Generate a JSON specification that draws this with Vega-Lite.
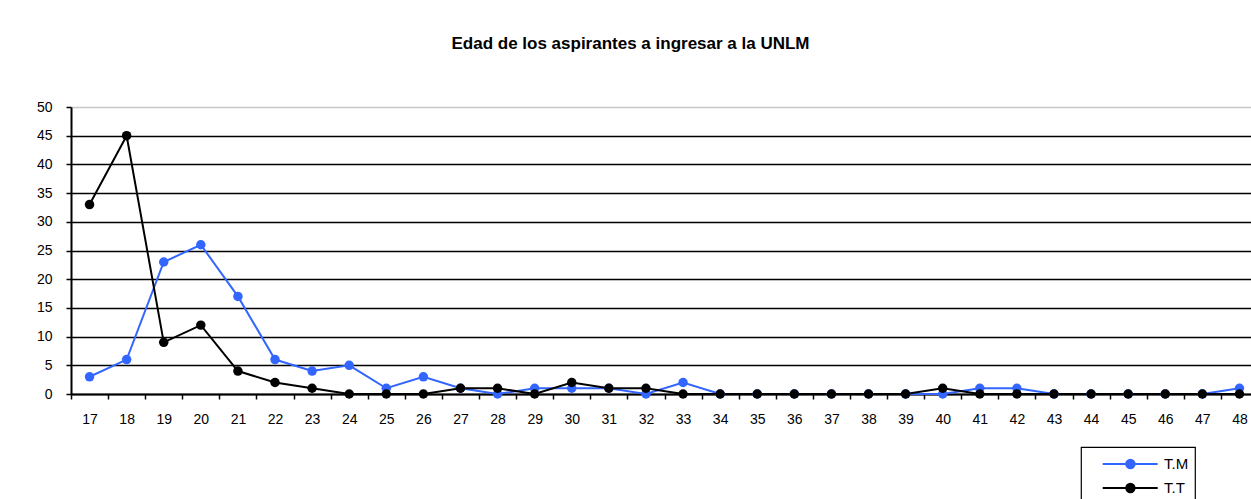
{
  "$schema": "https://vega.github.io/schema/vega-lite/v6.json",
  "autosize": {"type": "none"},
  "padding": {"left": 71, "top": 107, "right": 0, "bottom": 105},
  "width": 1187,
  "height": 287,
  "background": "white",
  "title": {
    "text": "Edad de los aspirantes a ingresar a la UNLM",
    "font": "Liberation Sans",
    "fontSize": 17,
    "fontWeight": "bold",
    "color": "black",
    "anchor": "middle",
    "frame": "group",
    "baseline": "alphabetic",
    "offset": 34,
    "dx": -34
  },
  "config": {
    "view": {"stroke": null},
    "axis": {"labelFont": "Liberation Sans", "labelColor": "black", "labelFontSize": 14}
  },
  "data": {
    "values": [
      {"edad": 17, "turno": "T.M", "valor": 3},
      {"edad": 18, "turno": "T.M", "valor": 6},
      {"edad": 19, "turno": "T.M", "valor": 23},
      {"edad": 20, "turno": "T.M", "valor": 26},
      {"edad": 21, "turno": "T.M", "valor": 17},
      {"edad": 22, "turno": "T.M", "valor": 6},
      {"edad": 23, "turno": "T.M", "valor": 4},
      {"edad": 24, "turno": "T.M", "valor": 5},
      {"edad": 25, "turno": "T.M", "valor": 1},
      {"edad": 26, "turno": "T.M", "valor": 3},
      {"edad": 27, "turno": "T.M", "valor": 1},
      {"edad": 28, "turno": "T.M", "valor": 0},
      {"edad": 29, "turno": "T.M", "valor": 1},
      {"edad": 30, "turno": "T.M", "valor": 1},
      {"edad": 31, "turno": "T.M", "valor": 1},
      {"edad": 32, "turno": "T.M", "valor": 0},
      {"edad": 33, "turno": "T.M", "valor": 2},
      {"edad": 34, "turno": "T.M", "valor": 0},
      {"edad": 35, "turno": "T.M", "valor": 0},
      {"edad": 36, "turno": "T.M", "valor": 0},
      {"edad": 37, "turno": "T.M", "valor": 0},
      {"edad": 38, "turno": "T.M", "valor": 0},
      {"edad": 39, "turno": "T.M", "valor": 0},
      {"edad": 40, "turno": "T.M", "valor": 0},
      {"edad": 41, "turno": "T.M", "valor": 1},
      {"edad": 42, "turno": "T.M", "valor": 1},
      {"edad": 43, "turno": "T.M", "valor": 0},
      {"edad": 44, "turno": "T.M", "valor": 0},
      {"edad": 45, "turno": "T.M", "valor": 0},
      {"edad": 46, "turno": "T.M", "valor": 0},
      {"edad": 47, "turno": "T.M", "valor": 0},
      {"edad": 48, "turno": "T.M", "valor": 1},
      {"edad": 17, "turno": "T.T", "valor": 33},
      {"edad": 18, "turno": "T.T", "valor": 45},
      {"edad": 19, "turno": "T.T", "valor": 9},
      {"edad": 20, "turno": "T.T", "valor": 12},
      {"edad": 21, "turno": "T.T", "valor": 4},
      {"edad": 22, "turno": "T.T", "valor": 2},
      {"edad": 23, "turno": "T.T", "valor": 1},
      {"edad": 24, "turno": "T.T", "valor": 0},
      {"edad": 25, "turno": "T.T", "valor": 0},
      {"edad": 26, "turno": "T.T", "valor": 0},
      {"edad": 27, "turno": "T.T", "valor": 1},
      {"edad": 28, "turno": "T.T", "valor": 1},
      {"edad": 29, "turno": "T.T", "valor": 0},
      {"edad": 30, "turno": "T.T", "valor": 2},
      {"edad": 31, "turno": "T.T", "valor": 1},
      {"edad": 32, "turno": "T.T", "valor": 1},
      {"edad": 33, "turno": "T.T", "valor": 0},
      {"edad": 34, "turno": "T.T", "valor": 0},
      {"edad": 35, "turno": "T.T", "valor": 0},
      {"edad": 36, "turno": "T.T", "valor": 0},
      {"edad": 37, "turno": "T.T", "valor": 0},
      {"edad": 38, "turno": "T.T", "valor": 0},
      {"edad": 39, "turno": "T.T", "valor": 0},
      {"edad": 40, "turno": "T.T", "valor": 1},
      {"edad": 41, "turno": "T.T", "valor": 0},
      {"edad": 42, "turno": "T.T", "valor": 0},
      {"edad": 43, "turno": "T.T", "valor": 0},
      {"edad": 44, "turno": "T.T", "valor": 0},
      {"edad": 45, "turno": "T.T", "valor": 0},
      {"edad": 46, "turno": "T.T", "valor": 0},
      {"edad": 47, "turno": "T.T", "valor": 0},
      {"edad": 48, "turno": "T.T", "valor": 0}
    ]
  },
  "mark": {
    "type": "line",
    "strokeWidth": 2,
    "point": {"filled": true, "size": 90, "opacity": 1}
  },
  "encoding": {
    "x": {
      "field": "edad",
      "type": "ordinal",
      "sort": "ascending",
      "scale": {"type": "band", "paddingInner": 0, "paddingOuter": 0},
      "axis": {
        "title": null,
        "labelAngle": 0,
        "domainColor": "black",
        "domainWidth": 2,
        "tickColor": "black",
        "tickWidth": 1.5,
        "tickSize": 5,
        "tickBand": "extent",
        "labelPadding": 13,
        "grid": false
      }
    },
    "y": {
      "field": "valor",
      "type": "quantitative",
      "scale": {"domain": [0, 50], "nice": false},
      "axis": {
        "title": null,
        "values": [0, 5, 10, 15, 20, 25, 30, 35, 40, 45, 50],
        "domainColor": "black",
        "domainWidth": 2,
        "tickColor": "black",
        "tickWidth": 1.5,
        "tickSize": 5,
        "labelPadding": 14,
        "grid": true,
        "gridWidth": 1.5,
        "gridColor": {"condition": {"test": "datum.value === 50", "value": "#c8c8c8"}, "value": "black"},
        "gridOpacity": 1
      }
    },
    "color": {
      "field": "turno",
      "type": "nominal",
      "scale": {"domain": ["T.M", "T.T"], "range": ["#3366ff", "#000000"]},
      "legend": {
        "title": null,
        "orient": "none",
        "legendX": 1010,
        "legendY": 340,
        "strokeColor": "black",
        "fillColor": "white",
        "padding": 6,
        "rowPadding": 4,
        "symbolSize": 400,
        "symbolType": "M0.47,0H5.97M2.82,0A0.42,0.42 0 1,1 3.66,0A0.42,0.42 0 1,1 2.82,0Z",
        "symbolStrokeWidth": 2,
        "labelOffset": 55,
        "labelFont": "Liberation Sans",
        "labelFontSize": 15,
        "labelColor": "black",
        "encode": {
          "legend": {"update": {"strokeWidth": {"value": 1.2}}},
          "symbols": {
            "update": {
              "fill": {"scale": "color", "field": "value"},
              "fillOpacity": {"value": 1},
              "opacity": {"value": 1}
            }
          }
        }
      }
    }
  }
}
